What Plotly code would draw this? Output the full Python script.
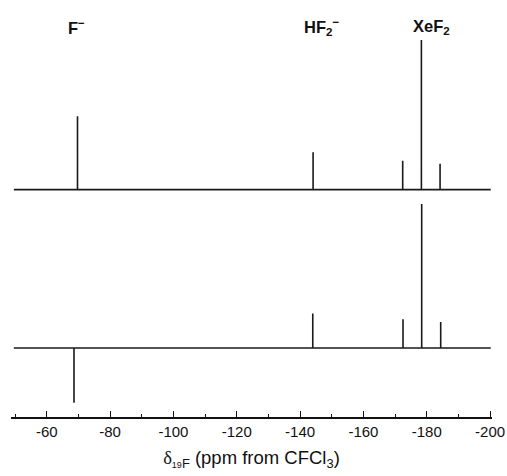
import plotly.graph_objects as go

# Peak positions (ppm) and relative intensities for the two spectra
top_shifts = [-69.7, -144.1, -172.4, -178.3, -184.2]
top_heights = [51, 26, 20, 104, 18]
bottom_shifts = [-68.6, -144.0, -172.5, -178.4, -184.4]
bottom_heights = [-38, 24, 20, 100, 18]
top_offset = 110
spectrum_start = -49.6
spectrum_end = -200.2

tick_vals = [-60, -80, -100, -120, -140, -160, -180, -200]
tick_text = ["-60", "-80", "-100", "-120", "-140", "-160", "-180", "-200"]

label_texts = ["<b>F<sup>−</sup></b>", "<b>HF<sub>2</sub><sup>−</sup></b>", "<b>XeF<sub>2</sub></b>"]
label_shifts = [-69.4, -146.6, -181.4]

x_title = ("<span style='font-family:Liberation Serif'>δ</span>"
           "<sub><span style='font-size:9px'>19</span>F</sub>"
           " (ppm from CFCl<sub>3</sub>)")


def stick_path(shifts, heights, offset):
    xs = [spectrum_start]
    ys = [offset]
    for s, h in sorted(zip(shifts, heights), key=lambda t: -t[0]):
        xs += [s, s, s]
        ys += [offset, offset + h, offset]
    xs.append(spectrum_end)
    ys.append(offset)
    return xs, ys


fig = go.Figure()
for shifts, heights, off in [(top_shifts, top_heights, top_offset),
                             (bottom_shifts, bottom_heights, 0)]:
    xs, ys = stick_path(shifts, heights, off)
    fig.add_trace(go.Scatter(x=xs, y=ys, mode="lines",
                             line=dict(color="#1a1a1a", width=1.6),
                             hoverinfo="skip", showlegend=False))

for txt, xs in zip(label_texts, label_shifts):
    fig.add_annotation(x=xs, y=1.0, xref="x", yref="paper", yanchor="middle",
                       yshift=13, text=txt, showarrow=False,
                       font=dict(family="Liberation Sans, Arial", size=16.5,
                                 color="#111"))

fig.update_layout(
    width=507, height=476,
    margin=dict(l=11, r=15, t=40, b=59, autoexpand=False),
    paper_bgcolor="white", plot_bgcolor="white",
    font=dict(family="Liberation Sans, Arial", color="#111"),
    xaxis=dict(
        range=[-48.7, -200.6], automargin=False,
        tickvals=tick_vals, ticktext=tick_text,
        ticks="inside", ticklen=6, tickwidth=1.3, tickcolor="#111",
        minor=dict(ticks="inside", ticklen=3, dtick=10, tick0=-50,
                   tickwidth=1.2, tickcolor="#111"),
        showline=True, linecolor="#111", linewidth=1.5,
        showgrid=False, zeroline=False,
        tickfont=dict(size=15),
        title=dict(text=x_title, font=dict(size=18.5), standoff=12),
    ),
    yaxis=dict(range=[-47.9, 213.9], visible=False, showgrid=False,
               zeroline=False),
)

fig.write_html("out.html", config={"displayModeBar": False},
               post_script="document.body.style.margin='0';document.body.style.overflow='hidden';")
